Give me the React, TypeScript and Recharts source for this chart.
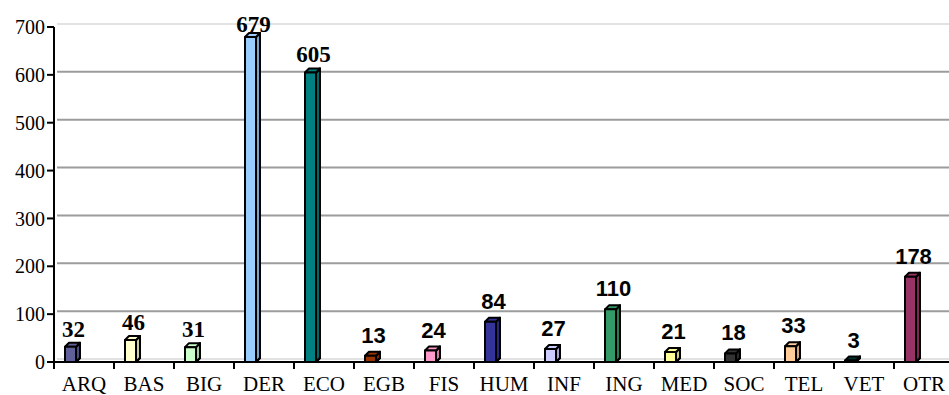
import React from 'react';
import { BarChart, Bar, XAxis, YAxis, CartesianGrid, LabelList, Cell } from 'recharts';

document.body.style.margin = '0';

const categories = ['ARQ', 'BAS', 'BIG', 'DER', 'ECO', 'EGB', 'FIS', 'HUM', 'INF', 'ING', 'MED', 'SOC', 'TEL', 'VET', 'OTR'];
const counts = [32, 46, 31, 679, 605, 13, 24, 84, 27, 110, 21, 18, 33, 3, 178];
const barColors = [
    '#60609a', '#ffffcc', '#ccffcc', '#99ccff', '#008080', '#993300', '#ff99cc', '#333399',
    '#ccccff', '#339966', '#ffff99', '#333333', '#ffcc99', '#003333', '#993366',
];
const yTicks = [0, 100, 200, 300, 400, 500, 600, 700];

// the first few value labels are drawn in a serif face in the original
const serifLabels = ['ARQ', 'BAS', 'BIG', 'DER', 'ECO'];

const data = categories.map((name, i) => ({ name, value: counts[i] }));

const W = 949;
const H = 395;
const PLOT_BOTTOM = 362;
const DEPTH = 4;
const SHIFT = -12;

const Bar3D = (props: any) => {
    const { x, y, width, height, fill } = props;
    const fx = x + SHIFT;
    const fw = width - DEPTH;
    const h = Math.max(height, 0);
    const side = `${fx + fw},${y} ${fx + fw + DEPTH},${y - DEPTH} ${fx + fw + DEPTH},${y + h - DEPTH} ${fx + fw},${y + h}`;
    return (
        <g stroke="#000" strokeWidth={2} strokeLinejoin="round">
            <polygon points={side} fill={fill} />
            <polygon points={side} fill="#000" fillOpacity={0.2} />
            <polygon
                points={`${fx},${y} ${fx + DEPTH},${y - DEPTH} ${fx + fw + DEPTH},${y - DEPTH} ${fx + fw},${y}`}
                fill={fill}
            />
            <rect x={fx} y={y} width={fw} height={h} fill={fill} />
        </g>
    );
};

const ValueLabel = (props: any) => {
    const { x, y, width, value, index } = props;
    const serif = serifLabels.includes(categories[index]);
    const cx = x + SHIFT + width / 2 + 1;
    const baseline = Math.max(y - (serif ? 10 : 13), 32);
    return (
        <text
            x={cx}
            y={baseline}
            textAnchor="middle"
            fontFamily={serif ? 'Liberation Serif' : 'Liberation Sans'}
            fontWeight="bold"
            fontSize={serif ? 23 : 22}
            fill="#000"
        >
            {value}
        </text>
    );
};

const CategoryTick = (props: any) => {
    const { x, payload } = props;
    return (
        <g>
            <line x1={x - 30} y1={PLOT_BOTTOM} x2={x - 30} y2={PLOT_BOTTOM + 7} stroke="#000" strokeWidth={2} />
            <text x={x} y={391} textAnchor="middle" fontFamily="Liberation Serif" fontSize={21} fill="#000">
                {payload.value}
            </text>
        </g>
    );
};

const GridLine = (props: any) => {
    const { x1, x2, y1 } = props;
    const edge = y1 < 35 || y1 > PLOT_BOTTOM - 5;
    return (
        <line
            x1={x1 + 3}
            x2={x2}
            y1={y1 - 3}
            y2={y1 - 3}
            stroke={edge ? '#e2e2e2' : '#9c9c9c'}
            strokeWidth={2}
        />
    );
};

export default function App() {
    return (
        <div style={{ width: W, height: H, background: '#fff' }}>
            <BarChart
                width={W}
                height={H}
                data={data}
                margin={{ top: 27, right: -5, left: 0, bottom: 0 }}
                barSize={15}
            >
                <CartesianGrid vertical={false} horizontal={GridLine} />
                <XAxis
                    dataKey="name"
                    height={33}
                    interval={0}
                    tickLine={false}
                    axisLine={{ stroke: '#000', strokeWidth: 2 }}
                    tick={CategoryTick}
                />
                <YAxis
                    width={54}
                    domain={[0, 700]}
                    ticks={yTicks}
                    interval={0}
                    tickSize={7}
                    tickMargin={2}
                    axisLine={{ stroke: '#000', strokeWidth: 2 }}
                    tickLine={{ stroke: '#000', strokeWidth: 2 }}
                    tick={{ fill: '#000', fontFamily: 'Liberation Serif', fontSize: 20 }}
                />
                <Bar dataKey="value" shape={Bar3D} isAnimationActive={false}>
                    {data.map((d, i) => (
                        <Cell key={d.name} fill={barColors[i]} />
                    ))}
                    <LabelList dataKey="value" content={ValueLabel} />
                </Bar>
            </BarChart>
        </div>
    );
}
